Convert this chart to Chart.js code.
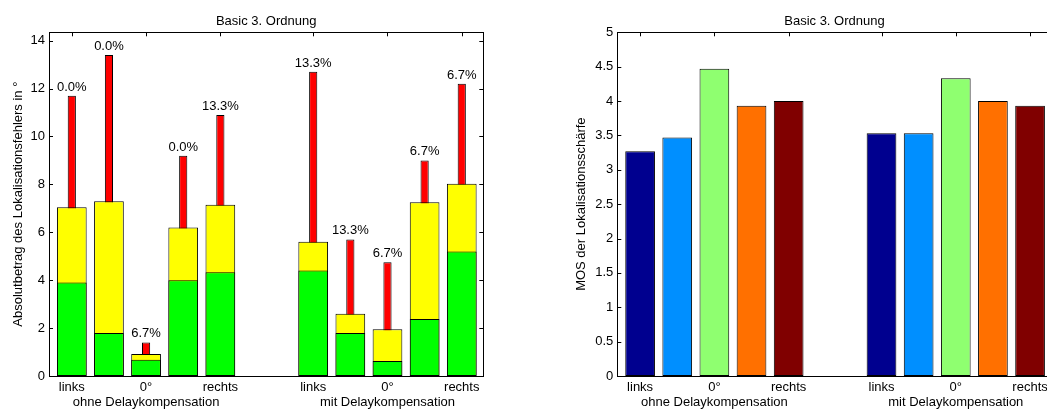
<!DOCTYPE html>
<html><head><meta charset="utf-8">
<script src="https://cdn.jsdelivr.net/npm/chart.js@4.4.1/dist/chart.umd.min.js"></script>
<style>
html,body{margin:0;padding:0;background:#fff;width:1047px;height:413px;overflow:hidden;position:relative;}
#w1{position:absolute;left:0;top:0;width:495px;height:413px;}
#w2{position:absolute;left:560px;top:0;width:500px;height:413px;}
</style></head><body>
<div id="w1"><canvas id="c1"></canvas></div>
<div id="w2"><canvas id="c2"></canvas></div>
<script>
// ---- data ----
const barPositions = [1, 2, 3, 4, 5, 7.5, 8.5, 9.5, 10.5, 11.5];
const xTickPositions = [1, 3, 5, 7.5, 9.5, 11.5];
const xTickLabels = ['links', '0°', 'rechts', 'links', '0°', 'rechts'];
const groupLabels = ['ohne Delaykompensation', 'mit Delaykompensation'];
const groupCenters = [3, 9.5];
const chartTitle = 'Basic 3. Ordnung';

const greenValues  = [3.9, 1.8, 0.68, 4.0, 4.33, 4.4, 1.8, 0.63, 2.38, 5.2];
const yellowValues = [7.05, 7.3, 0.92, 6.2, 7.15, 5.6, 2.6, 1.95, 7.25, 8.03];
const redValues    = [11.7, 13.4, 1.4, 9.2, 10.9, 12.7, 5.7, 4.75, 9.0, 12.2];
const percentLabels = ['0.0%', '0.0%', '6.7%', '0.0%', '13.3%', '13.3%', '13.3%', '6.7%', '6.7%', '6.7%'];
const leftYTicks = [0, 2, 4, 6, 8, 10, 12, 14];
const leftYTitle = 'Absolutbetrag des Lokalisationsfehlers in °';

const mosValues = [3.27, 3.47, 4.47, 3.93, 4.0, 3.53, 3.53, 4.33, 4.0, 3.93];
const mosColors = ['#00008f', '#008fff', '#8fff70', '#ff7000', '#800000', '#00008f', '#008fff', '#8fff70', '#ff7000', '#800000'];
const rightYTicks = [0, 0.5, 1, 1.5, 2, 2.5, 3, 3.5, 4, 4.5, 5];
const rightYTitle = 'MOS der Lokalisationsschärfe';

// ---- helpers ----
const FONT = 'Liberation Sans, Arial, Helvetica, sans-serif';
const f13 = {family: FONT, size: 13, weight: 'normal'};
const X_MIN = 0.386, X_MAX = 12.08;

const axesPlugin = {
  id: 'axesBox',
  beforeDatasetsDraw(chart) {
    const {ctx, chartArea: a, scales: {x, y}} = chart;
    ctx.save();
    ctx.strokeStyle = '#000';
    ctx.lineWidth = 1;
    ctx.beginPath();
    x.ticks.forEach(t => {
      const px = Math.round(x.getPixelForValue(t.value)) + 0.5;
      ctx.moveTo(px, a.bottom); ctx.lineTo(px, a.bottom - 4);
      ctx.moveTo(px, a.top); ctx.lineTo(px, a.top + 4);
    });
    y.ticks.forEach(t => {
      const py = Math.round(y.getPixelForValue(t.value)) + 0.5;
      ctx.moveTo(a.left, py); ctx.lineTo(a.left + 4, py);
      ctx.moveTo(a.right, py); ctx.lineTo(a.right - 4, py);
    });
    ctx.stroke();
    ctx.restore();
  },
  afterDatasetsDraw(chart, args, opts) {
    const {ctx, chartArea: a, scales: {x}} = chart;
    ctx.save();
    ctx.strokeStyle = '#000';
    ctx.lineWidth = 1;
    ctx.strokeRect(Math.round(a.left) + 0.5, Math.round(a.top) + 0.5,
                   Math.round(a.right - a.left), Math.round(a.bottom - a.top));
    ctx.fillStyle = '#000';
    ctx.font = '13px ' + FONT;
    ctx.textAlign = 'center';
    ctx.textBaseline = 'middle';
    groupLabels.forEach((g, i) => {
      ctx.fillText(g, x.getPixelForValue(groupCenters[i]), a.bottom + 26);
    });
    if (opts.percentDataset !== undefined) {
      const meta = chart.getDatasetMeta(opts.percentDataset);
      ctx.textBaseline = 'alphabetic';
      meta.data.forEach((el, i) => {
        ctx.fillText(percentLabels[i], el.x, el.y - 5);
      });
    }
    ctx.restore();
  }
};

function xScale() {
  return {
    type: 'linear', min: X_MIN, max: X_MAX, offset: false,
    grid: {display: false, drawTicks: false, offset: false},
    border: {display: false},
    afterBuildTicks: s => { s.ticks = xTickPositions.map(v => ({value: v})); },
    afterFit: s => { s.height = 37; },
    ticks: {
      autoSkip: false, maxRotation: 0, minRotation: 0, padding: 3.2,
      color: '#000', font: f13,
      callback: (v, i) => xTickLabels[i]
    }
  };
}
function yScale(max, ticks, width, title, titlePad) {
  return {
    type: 'linear', min: 0, max: max,
    grid: {display: false, drawTicks: false},
    border: {display: false},
    afterBuildTicks: s => { s.ticks = ticks.map(v => ({value: v})); },
    afterFit: s => { s.width = width; },
    ticks: {padding: 4, color: '#000', font: f13, callback: v => String(v)},
    title: {display: true, text: title, color: '#000', font: f13, padding: {top: titlePad, bottom: 0}}
  };
}
function titleOpts() {
  return {display: true, text: chartTitle, fullSize: false, color: '#000', font: f13,
          padding: {top: 13.5, bottom: 3.2}};
}
const barStyle = {grouped: false, categoryPercentage: 1, barPercentage: 0.8,
                  borderWidth: 1, borderColor: '#000', borderSkipped: false};

new Chart(document.getElementById('c1'), {
  type: 'bar',
  data: {
    datasets: [
      Object.assign({label: 'green', data: barPositions.map((p, i) => ({x: p, y: greenValues[i]})),
        backgroundColor: '#00ff00', order: 1}, barStyle),
      Object.assign({label: 'yellow', data: barPositions.map((p, i) => ({x: p, y: yellowValues[i]})),
        backgroundColor: '#ffff00', order: 2}, barStyle),
      Object.assign({label: 'red', data: barPositions.map((p, i) => ({x: p, y: redValues[i]})),
        backgroundColor: '#ff0000', order: 3}, barStyle, {barPercentage: 0.22})
    ]
  },
  options: {
    responsive: true, maintainAspectRatio: false, animation: false,
    layout: {padding: {left: 0, right: 495 - 483.3, top: 0, bottom: 0}},
    scales: {x: xScale(), y: yScale(14.35, leftYTicks, 49, leftYTitle, 10.5)},
    plugins: {legend: {display: false}, tooltip: {enabled: false}, title: titleOpts(),
              axesBox: {percentDataset: 2}}
  },
  plugins: [axesPlugin]
});

new Chart(document.getElementById('c2'), {
  type: 'bar',
  data: {
    datasets: [
      Object.assign({label: 'MOS', data: barPositions.map((p, i) => ({x: p, y: mosValues[i]})),
        backgroundColor: mosColors}, barStyle)
    ]
  },
  options: {
    responsive: true, maintainAspectRatio: false, animation: false,
    layout: {padding: {left: 0, right: 500 - (1051.6 - 560), top: 0, bottom: 0}},
    scales: {x: xScale(), y: yScale(5, rightYTicks, 57.3, rightYTitle, 13.9)},
    plugins: {legend: {display: false}, tooltip: {enabled: false}, title: titleOpts(), axesBox: {}}
  },
  plugins: [axesPlugin]
});
</script>
</body></html>
